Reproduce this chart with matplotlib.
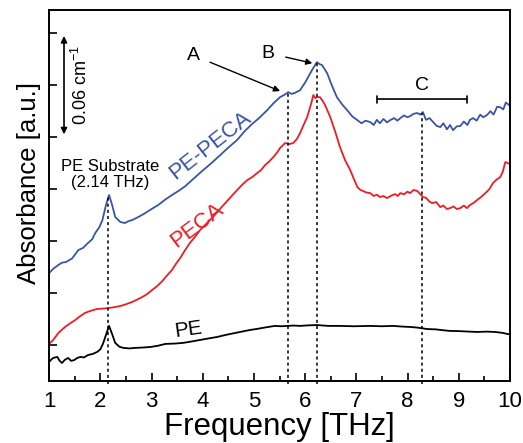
import matplotlib.pyplot as plt

plt.rcParams['font.family'] = ['Liberation Sans', 'DejaVu Sans']
plt.rcParams['mathtext.fontset'] = 'custom'
plt.rcParams['mathtext.rm'] = 'Liberation Sans'

# PE-PECA (blue)
f_pepeca = [1.00, 1.08, 1.18, 1.25, 1.33, 1.45, 1.57, 1.66, 1.76, 1.84, 1.90, 1.98, 2.04, 2.11, 2.17,
            2.23, 2.29, 2.39, 2.48, 2.55, 2.62, 2.75, 2.88, 3.00, 3.13, 3.27, 3.40, 3.53, 3.66, 3.82,
            4.01, 4.17, 4.34, 4.50, 4.67, 4.82, 4.96, 5.10, 5.26, 5.38, 5.51, 5.60, 5.67, 5.73, 5.79,
            5.90, 6.00, 6.10, 6.17, 6.23, 6.28, 6.33, 6.43, 6.52, 6.62, 6.72, 6.82, 6.92, 7.02, 7.10,
            7.18, 7.27, 7.34, 7.40, 7.46, 7.53, 7.60, 7.66, 7.74, 7.80, 7.86, 7.93, 8.00, 8.05, 8.12,
            8.19, 8.25, 8.30, 8.36, 8.43, 8.50, 8.57, 8.64, 8.70, 8.77, 8.83, 8.89, 8.96, 9.03, 9.10,
            9.17, 9.22, 9.28, 9.35, 9.42, 9.48, 9.55, 9.62, 9.68, 9.75, 9.81, 9.87, 9.92, 9.96, 10.0]
a_pepeca = [0.0415, 0.0440, 0.0462, 0.0475, 0.0479, 0.0500, 0.0548, 0.0560, 0.0589, 0.0610, 0.0646, 0.0680, 0.0721, 0.0808, 0.0866,
            0.0808, 0.0739, 0.0710, 0.0704, 0.0715, 0.0721, 0.0740, 0.0762, 0.0785, 0.0808, 0.0840, 0.0866, 0.0890, 0.0917, 0.0960,
            0.1010, 0.1050, 0.1096, 0.1140, 0.1183, 0.1235, 0.1275, 0.1310, 0.1356, 0.1395, 0.1431, 0.1445, 0.1460, 0.1450, 0.1454,
            0.1471, 0.1515, 0.1569, 0.1605, 0.1633, 0.1622, 0.1616, 0.1569, 0.1500, 0.1431, 0.1390, 0.1356, 0.1320, 0.1298, 0.1280,
            0.1295, 0.1287, 0.1270, 0.1300, 0.1280, 0.1305, 0.1285, 0.1298, 0.1310, 0.1295, 0.1310, 0.1325, 0.1315, 0.1321, 0.1335,
            0.1339, 0.1330, 0.1345, 0.1300, 0.1310, 0.1287, 0.1265, 0.1258, 0.1280, 0.1245, 0.1270, 0.1240, 0.1262, 0.1264, 0.1290,
            0.1270, 0.1300, 0.1310, 0.1295, 0.1330, 0.1315, 0.1327, 0.1350, 0.1330, 0.1375, 0.1373, 0.1360, 0.1400, 0.1391, 0.1380]

# PECA (red)
f_peca = [1.00, 1.08, 1.18, 1.31, 1.41, 1.51, 1.60, 1.70, 1.82, 1.94, 2.05, 2.15, 2.27, 2.39, 2.50,
          2.62, 2.72, 2.82, 2.92, 3.01, 3.11, 3.21, 3.30, 3.40, 3.48, 3.56, 3.65, 3.75, 3.85, 3.95,
          4.07, 4.20, 4.32, 4.44, 4.55, 4.67, 4.77, 4.87, 4.97, 5.06, 5.14, 5.22, 5.30, 5.38, 5.45,
          5.51, 5.61, 5.69, 5.77, 5.84, 5.90, 5.97, 6.04, 6.12, 6.16, 6.20, 6.23, 6.29, 6.34, 6.39,
          6.49, 6.59, 6.68, 6.78, 6.88, 6.95, 7.02, 7.08, 7.13, 7.20, 7.27, 7.34, 7.40, 7.46, 7.53,
          7.60, 7.68, 7.76, 7.81, 7.86, 7.93, 8.00, 8.05, 8.12, 8.19, 8.25, 8.30, 8.36, 8.42, 8.48,
          8.56, 8.64, 8.70, 8.77, 8.83, 8.90, 8.96, 9.03, 9.10, 9.16, 9.22, 9.29, 9.36, 9.44, 9.52,
          9.60, 9.67, 9.74, 9.81, 9.86, 9.91, 9.96, 10.0]
a_peca = [0.0006, 0.0029, 0.0069, 0.0104, 0.0125, 0.0144, 0.0165, 0.0185, 0.0198, 0.0208, 0.0210, 0.0213, 0.0218, 0.0225, 0.0235,
          0.0248, 0.0262, 0.0277, 0.0295, 0.0317, 0.0340, 0.0369, 0.0400, 0.0433, 0.0470, 0.0502, 0.0545, 0.0589, 0.0625, 0.0664,
          0.0700, 0.0739, 0.0780, 0.0819, 0.0855, 0.0894, 0.0925, 0.0952, 0.0970, 0.0992, 0.1010, 0.1039, 0.1060, 0.1085, 0.1110,
          0.1137, 0.1166, 0.1160, 0.1166, 0.1190, 0.1223, 0.1270, 0.1316, 0.1396, 0.1443, 0.1425, 0.1431, 0.1431, 0.1410, 0.1385,
          0.1316, 0.1229, 0.1143, 0.1067, 0.1010, 0.0960, 0.0912, 0.0895, 0.0889, 0.0880, 0.0877, 0.0860, 0.0868, 0.0854, 0.0860,
          0.0848, 0.0862, 0.0871, 0.0860, 0.0877, 0.0870, 0.0885, 0.0877, 0.0895, 0.0889, 0.0870, 0.0854, 0.0850, 0.0830, 0.0819,
          0.0825, 0.0796, 0.0805, 0.0785, 0.0790, 0.0800, 0.0785, 0.0790, 0.0805, 0.0790, 0.0808, 0.0820, 0.0837, 0.0855, 0.0877,
          0.0900, 0.0935, 0.0955, 0.0969, 0.1000, 0.1056, 0.1050, 0.1045]

# PE (black)
f_pe = [1.00, 1.04, 1.08, 1.16, 1.20, 1.25, 1.31, 1.37, 1.43, 1.49, 1.55, 1.61, 1.68, 1.76, 1.85,
        1.94, 2.00, 2.05, 2.11, 2.17, 2.23, 2.29, 2.37, 2.45, 2.57, 2.68, 2.82, 2.97, 3.12, 3.27,
        3.45, 3.62, 3.78, 3.95, 4.12, 4.28, 4.45, 4.63, 4.78, 4.93, 5.05, 5.16, 5.28, 5.41, 5.53,
        5.65, 5.78, 5.90, 6.05, 6.23, 6.45, 6.68, 6.95, 7.27, 7.50, 7.72, 7.90, 8.05, 8.20, 8.38,
        8.55, 8.70, 8.83, 9.00, 9.20, 9.36, 9.55, 9.71, 9.85, 9.96, 10.0]
a_pe = [-0.0098, -0.0085, -0.0075, -0.0069, -0.0090, -0.0104, -0.0085, -0.0075, -0.0092, -0.0087, -0.0075, -0.0069, -0.0072, -0.0058, -0.0052,
        -0.0040, -0.0025, 0.0006, 0.0058, 0.0110, 0.0063, 0.0012, -0.0010, -0.0017, -0.0020, -0.0017, -0.0015, -0.0012, -0.0005, 0.0006,
        0.0008, 0.0012, 0.0020, 0.0029, 0.0038, 0.0046, 0.0058, 0.0069, 0.0078, 0.0087, 0.0092, 0.0098, 0.0104, 0.0110, 0.0108,
        0.0110, 0.0112, 0.0110, 0.0113, 0.0115, 0.0110, 0.0110, 0.0108, 0.0110, 0.0108, 0.0110, 0.0106, 0.0104, 0.0100, 0.0092,
        0.0090, 0.0085, 0.0081, 0.0080, 0.0077, 0.0075, 0.0077, 0.0075, 0.0070, 0.0063, 0.0062]

# dotted marker lines: frequency, top of line
mark_f = [2.15, 5.66, 6.23, 8.29]
mark_top = [0.0866, 0.1460, 0.1633, 0.1339]

blue = '#3a54a4'
red = '#ee1c25'

fig = plt.figure(figsize=(5.23, 4.43), dpi=100)
ax = fig.add_axes([0.094, 0.140, 0.881, 0.837])

ax.plot(f_pepeca, a_pepeca, color=blue, lw=1.3)
ax.plot(f_peca, a_peca, color=red, lw=1.3)
ax.plot(f_pe, a_pe, color='black', lw=1.3)

for f, t in zip(mark_f, mark_top):
    ax.plot([f, f], [-0.0225, t], color='black', lw=1.1, ls=(0, (2, 2)), clip_on=False)

ax.set_xlim(1, 10)
ax.set_ylim(-0.0208, 0.1933)
ax.set_xticks(range(1, 11))
ax.set_xticks([i + 0.5 for i in range(1, 10)], minor=True)
ax.set_yticks([0, 0.03, 0.06, 0.09, 0.12, 0.15, 0.18])
ax.set_yticklabels([])
ax.tick_params(axis='both', which='major', direction='in', length=6, width=1.2, labelsize=16)
ax.tick_params(axis='x', which='major', pad=7)
ax.tick_params(axis='x', which='minor', direction='in', length=3.5, width=1.2)
for s in ax.spines.values():
    s.set_linewidth(1.4)

ax.set_xlabel('Frequency [THz]', fontsize=22.5)
ax.xaxis.set_label_coords(0.499, -0.083)
ax.set_ylabel('Absorbance [a.u.]', fontsize=18.5)
ax.yaxis.set_label_coords(-0.017, 0.534)

# scale bar
ax.annotate('', xy=(1.29, 0.18), xytext=(1.29, 0.12),
            arrowprops=dict(arrowstyle='<|-|>', color='black', lw=1.2, mutation_scale=9))
ax.text(1.63, 0.15, '0.06 cm$^{-1}$', rotation=90, fontsize=13, ha='center', va='center')

ax.text(2.19, 0.0985, 'PE Substrate\n(2.14 THz)', fontsize=12, ha='center', va='center',
        linespacing=1.1)

ax.text(4.14, 0.1154, 'PE-PECA', color=blue, fontsize=16, rotation=38, ha='center', va='center',
        rotation_mode='anchor')
ax.text(3.89, 0.0692, 'PECA', color=red, fontsize=16, rotation=37, ha='center', va='center',
        rotation_mode='anchor')
ax.text(3.71, 0.0087, 'PE', color='black', fontsize=15, rotation=8, ha='center', va='center',
        rotation_mode='anchor')

ax.annotate('A', xy=(5.51, 0.1466), xytext=(3.81, 0.1673), fontsize=14, ha='center', va='center',
            arrowprops=dict(arrowstyle='-|>', color='black', lw=1, mutation_scale=9, shrinkA=6, shrinkB=0))
ax.annotate('B', xy=(6.14, 0.1627), xytext=(5.28, 0.1685), fontsize=14, ha='center', va='center',
            arrowprops=dict(arrowstyle='-|>', color='black', lw=1, mutation_scale=9, shrinkA=6, shrinkB=0))

ax.text(8.29, 0.150, 'C', fontsize=14, ha='center', va='center')
ax.annotate('', xy=(7.41, 0.142), xytext=(9.16, 0.142),
            arrowprops=dict(arrowstyle='|-|, widthA=0.25, widthB=0.25', color='black', lw=1.2,
                            shrinkA=0, shrinkB=0))

fig.savefig('out.png', dpi=100)
